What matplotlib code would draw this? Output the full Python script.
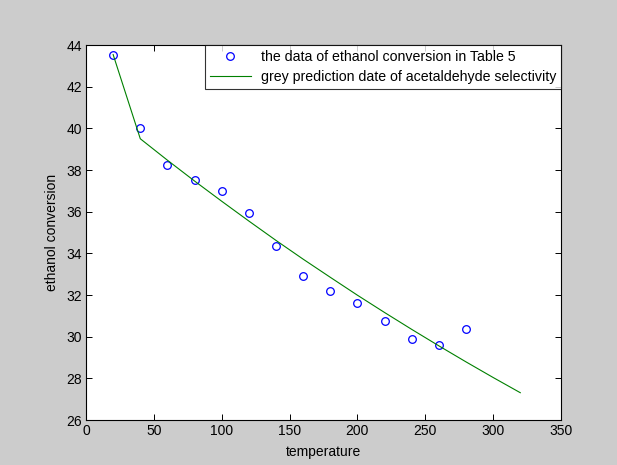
import matplotlib
matplotlib.use("Agg")
import matplotlib.pyplot as plt

# measured data (Table 5)
temp = [20, 40, 60, 80, 100, 120, 140, 160, 180, 200, 220, 240, 260, 280]
conv = [43.54, 40.0, 38.25, 37.51, 36.98, 35.94, 34.35, 32.91, 32.17, 31.64, 30.73, 29.90, 29.60, 30.37]

# grey prediction curve
temp_pred = [20, 40, 60, 80, 100, 120, 140, 160, 180, 200, 220, 240, 260, 280, 300, 320]
conv_pred = [43.54, 39.5, 38.47, 37.47, 36.50, 35.55, 34.62, 33.72, 32.85, 31.99, 31.16,
             30.35, 29.56, 28.79, 28.04, 27.31]

plt.rcParams['font.family'] = ['Liberation Sans', 'DejaVu Sans']

fig = plt.figure(figsize=(6.17, 4.65), dpi=100, facecolor='#cccccc')
ax = fig.add_axes([86/617, 45/465, (561-86)/617, (420-45)/465])

ax.plot(temp, conv, 'o', color='#0000ff', mfc='none', ms=5.5, mew=0.9,
        label='the data of ethanol conversion in Table 5')
ax.plot(temp_pred, conv_pred, '-', color='#008000', lw=0.8,
        label='grey prediction date of acetaldehyde selectivity')

ax.set_xlim(0, 350)
ax.set_ylim(26, 44)
ax.set_xticks(range(0, 351, 50))
ax.set_yticks(range(26, 45, 2))
ax.tick_params(direction='in', top=True, right=True, labelsize=10, length=4, width=0.7, pad=3)
for s in ax.spines.values():
    s.set_linewidth(0.8)

ax.set_xlabel('temperature', fontsize=10, labelpad=5)
ax.set_ylabel('ethanol conversion', fontsize=10, labelpad=5)

leg = ax.legend(loc='upper right', fontsize=10.2, frameon=True, fancybox=False,
                borderaxespad=0, handlelength=2.9, handletextpad=0.7,
                borderpad=0.35, labelspacing=0.45)
leg.get_frame().set_edgecolor('black')
leg.get_frame().set_linewidth(0.8)

fig.savefig('out.png', dpi=100, facecolor=fig.get_facecolor())
